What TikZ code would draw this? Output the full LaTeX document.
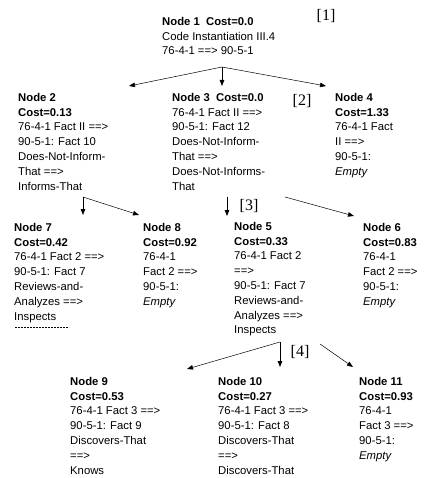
\documentclass[tikz,border=0pt]{standalone}
\usepackage{fontspec}
\setmainfont{Liberation Sans}
\newfontfamily\labelfont{Liberation Serif}
\usetikzlibrary{arrows.meta}
\begin{document}
\begin{tikzpicture}[x=1pt,y=-1pt,
  box/.style={anchor=north west,inner sep=0pt,align=left,
    font=\fontsize{11.3}{14.8}\selectfont},
  tag/.style={inner sep=0pt,font=\labelfont\fontsize{16}{16}\selectfont},
  conn/.style={line width=0.5pt,-{Triangle[length=6pt,width=4.5pt]}},
  downconn/.style={line width=0.8pt,-{Triangle[length=6pt,width=4.5pt]}}]
\useasboundingbox (0,0) rectangle (427,478);

\node[box] (n1) at (162,17) {\textbf{Node 1\ \ Cost=0.0}\\Code Instantiation III.4\\76-4-1 ==> 90-5-1};
\node[box] (n2) at (18,93) {\textbf{Node 2}\\\textbf{Cost=0.13}\\76-4-1 Fact II ==>\\90-5-1: Fact 10\\Does-Not-Inform-\\That ==>\\Informs-That};
\node[box] (n3) at (172,93) {\textbf{Node 3\ \ Cost=0.0}\\76-4-1 Fact II ==>\\90-5-1: Fact 12\\Does-Not-Inform-\\That ==>\\Does-Not-Informs-\\That};
\node[box] (n4) at (335,93) {\textbf{Node 4}\\\textbf{Cost=1.33}\\76-4-1 Fact\\II ==>\\90-5-1:\\\textit{Empty}};
\node[box] (n7) at (14,223) {\textbf{Node 7}\\\textbf{Cost=0.42}\\76-4-1 Fact 2 ==>\\90-5-1: Fact 7\\Reviews-and-\\Analyzes ==>\\Inspects};
\node[box] (n8) at (143,223) {\textbf{Node 8}\\\textbf{Cost=0.92}\\76-4-1\\Fact 2 ==>\\90-5-1:\\\textit{Empty}};
\node[box] (n5) at (234,222) {\textbf{Node 5}\\\textbf{Cost=0.33}\\76-4-1 Fact 2\\==>\\90-5-1: Fact 7\\Reviews-and-\\Analyzes ==>\\Inspects};
\node[box] (n6) at (363,223) {\textbf{Node 6}\\\textbf{Cost=0.83}\\76-4-1\\Fact 2 ==>\\90-5-1:\\\textit{Empty}};
\node[box] (n9) at (70,377) {\textbf{Node 9}\\\textbf{Cost=0.53}\\76-4-1 Fact 3 ==>\\90-5-1: Fact 9\\Discovers-That\\==>\\Knows};
\node[box] (n10) at (218,377) {\textbf{Node 10}\\\textbf{Cost=0.27}\\76-4-1 Fact 3 ==>\\90-5-1: Fact 8\\Discovers-That\\==>\\Discovers-That};
\node[box] (n11) at (359,377) {\textbf{Node 11}\\\textbf{Cost=0.93}\\76-4-1\\Fact 3 ==>\\90-5-1:\\\textit{Empty}};

\node[tag] (t1) at (326,16) {[1]};
\node[tag] (t2) at (302,101) {[2]};
\node[tag] (t3) at (249,206) {[3]};
\node[tag] (t4) at (300,352) {[4]};

% connector end points
\coordinate (a1) at (222,67);
\coordinate (e12) at (129,86);
\coordinate (e13) at (222,86);
\coordinate (e14) at (326,86);
\coordinate (a2) at (83,197);
\coordinate (e27) at (83,215);
\coordinate (e28) at (139,215);
\coordinate (a3) at (227,197);
\coordinate (e35) at (227,216);
\coordinate (b3) at (285,197);
\coordinate (e36) at (354,216);
\coordinate (a5) at (280,342);
\coordinate (e59) at (187,369);
\coordinate (e510) at (280,367);
\coordinate (b5) at (320,344);
\coordinate (e511) at (353,367);
\coordinate (d1) at (15,327);
\coordinate (d2) at (69,327);

\draw[conn] (a1) -- (e12);
\draw[downconn] (a1) -- (e13);
\draw[conn] (a1) -- (e14);
\draw[downconn] (a2) -- (e27);
\draw[conn] (a2) -- (e28);
\draw[downconn] (a3) -- (e35);
\draw[conn] (b3) -- (e36);
\draw[conn] (a5) -- (e59);
\draw[downconn] (a5) -- (e510);
\draw[conn] (b5) -- (e511);
\draw[line width=0.5pt,dash pattern=on 2pt off 1pt] (d1) -- (d2);
\end{tikzpicture}
\end{document}
